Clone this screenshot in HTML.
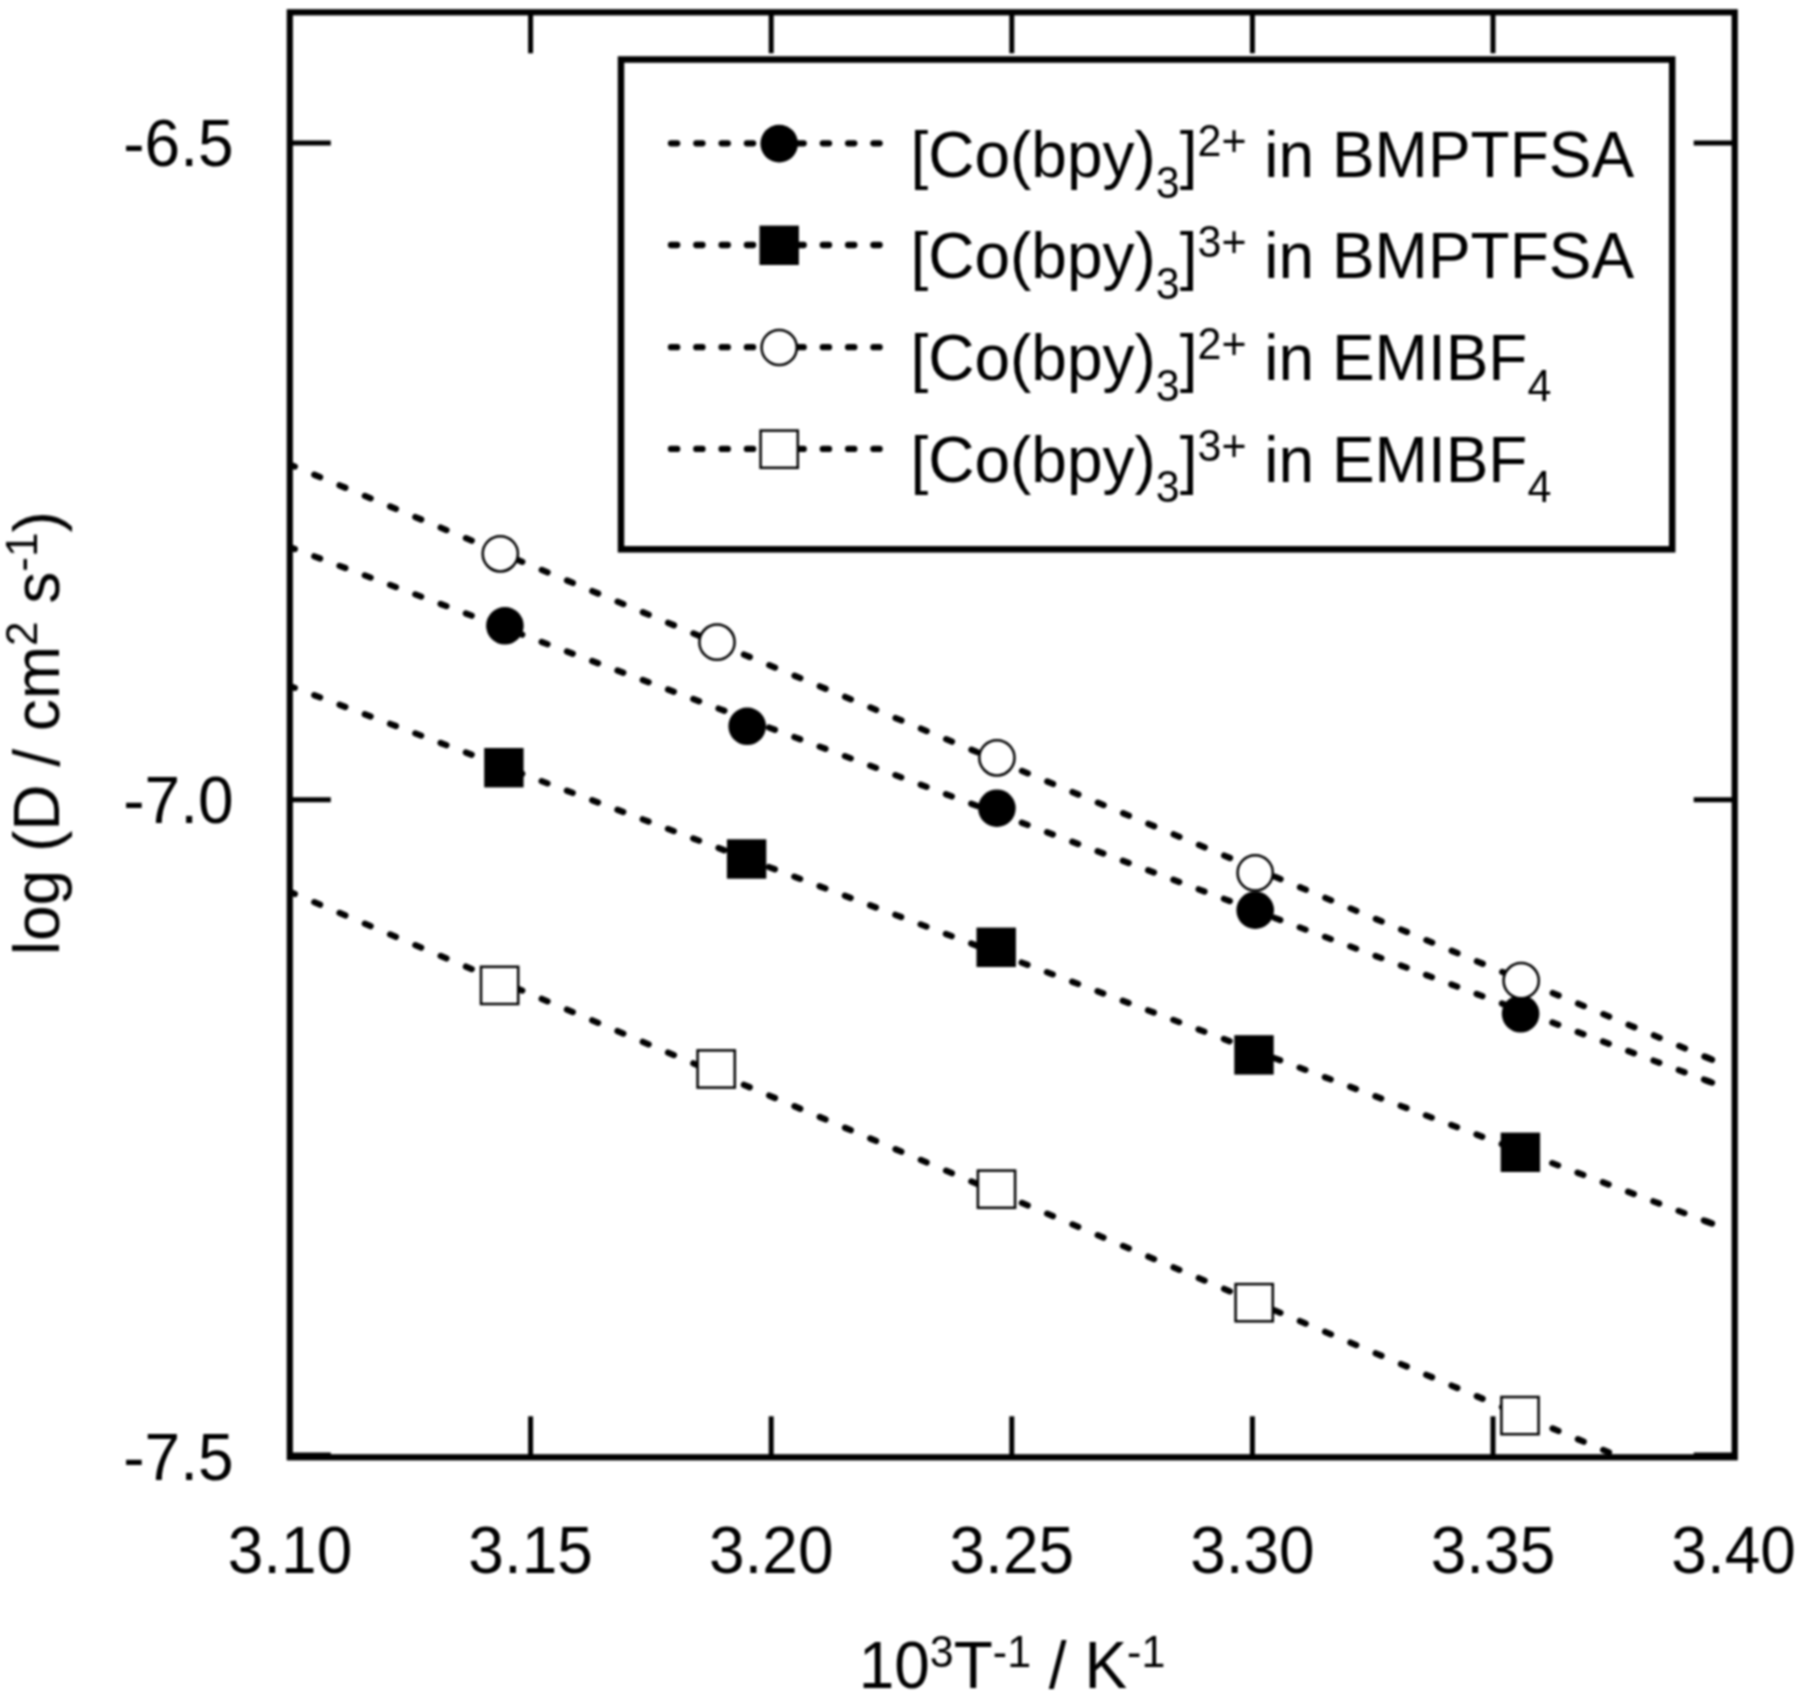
<!DOCTYPE html>
<html lang="en"><head><meta charset="utf-8"><title>log D vs 1000/T</title>
<style>html,body{margin:0;padding:0;background:#fff;}body{width:1800px;height:1697px;overflow:hidden;}svg{display:block;}text{font-family:"Liberation Sans",sans-serif;fill:#000;}</style>
</head><body>
<svg width="1800" height="1697" viewBox="0 0 1800 1697">
<rect x="0" y="0" width="1800" height="1697" fill="#fff"/>
<defs><filter id="soft" x="0" y="0" width="1800" height="1697" filterUnits="userSpaceOnUse" color-interpolation-filters="sRGB"><feGaussianBlur stdDeviation="0.8"/></filter><clipPath id="plotclip"><rect x="289.80" y="12.30" width="1444.90" height="1445.00"/></clipPath></defs>
<g filter="url(#soft)">
<g>
<line x1="289.00" y1="546.85" x2="1710.50" y2="1082.04" stroke="#000" stroke-width="6.3" stroke-linecap="round" stroke-dasharray="6.20 20.80" clip-path="url(#plotclip)"/><line x1="1706.00" y1="1080.35" x2="1712.00" y2="1082.61" stroke="#000" stroke-width="6.3" stroke-linecap="round" clip-path="url(#plotclip)"/>
<circle cx="504.9" cy="625.8" r="18.8" fill="#000"/>
<circle cx="747.2" cy="726.3" r="18.8" fill="#000"/>
<circle cx="996.9" cy="808.2" r="18.8" fill="#000"/>
<circle cx="1255.2" cy="910.2" r="18.8" fill="#000"/>
<circle cx="1520.6" cy="1013.8" r="18.8" fill="#000"/>
</g>
<g>
<line x1="289.00" y1="685.64" x2="1710.50" y2="1222.97" stroke="#000" stroke-width="6.3" stroke-linecap="round" stroke-dasharray="6.20 20.81" clip-path="url(#plotclip)"/><line x1="1706.00" y1="1221.27" x2="1712.00" y2="1223.54" stroke="#000" stroke-width="6.3" stroke-linecap="round" clip-path="url(#plotclip)"/>
<rect x="484.2" y="748.0" width="39.4" height="39.4" fill="#000"/>
<rect x="726.9" y="839.3" width="39.4" height="39.4" fill="#000"/>
<rect x="976.5" y="927.6" width="39.4" height="39.4" fill="#000"/>
<rect x="1234.3" y="1035.2" width="39.4" height="39.4" fill="#000"/>
<rect x="1500.7" y="1132.6" width="39.4" height="39.4" fill="#000"/>
</g>
<g>
<line x1="289.00" y1="464.16" x2="1710.50" y2="1059.06" stroke="#000" stroke-width="6.3" stroke-linecap="round" stroke-dasharray="6.29 21.11" clip-path="url(#plotclip)"/><line x1="1706.00" y1="1057.18" x2="1712.00" y2="1059.69" stroke="#000" stroke-width="6.3" stroke-linecap="round" clip-path="url(#plotclip)"/>
<circle cx="500.3" cy="553.8" r="17.6" fill="#fff" stroke="#000" stroke-width="2.5"/>
<circle cx="717.0" cy="642.2" r="17.6" fill="#fff" stroke="#000" stroke-width="2.5"/>
<circle cx="996.9" cy="757.8" r="17.6" fill="#fff" stroke="#000" stroke-width="2.5"/>
<circle cx="1255.2" cy="872.9" r="17.6" fill="#fff" stroke="#000" stroke-width="2.5"/>
<circle cx="1521.2" cy="980.7" r="17.6" fill="#fff" stroke="#000" stroke-width="2.5"/>
</g>
<g>
<line x1="289.00" y1="891.45" x2="1710.50" y2="1495.59" stroke="#000" stroke-width="6.3" stroke-linecap="round" stroke-dasharray="6.30 21.16" clip-path="url(#plotclip)"/><line x1="1706.00" y1="1493.67" x2="1712.00" y2="1496.22" stroke="#000" stroke-width="6.3" stroke-linecap="round" clip-path="url(#plotclip)"/>
<rect x="481.0" y="966.8" width="37.2" height="37.2" fill="#fff" stroke="#000" stroke-width="2.5"/>
<rect x="697.6" y="1050.4" width="37.2" height="37.2" fill="#fff" stroke="#000" stroke-width="2.5"/>
<rect x="977.9" y="1170.6" width="37.2" height="37.2" fill="#fff" stroke="#000" stroke-width="2.5"/>
<rect x="1235.6" y="1284.1" width="37.2" height="37.2" fill="#fff" stroke="#000" stroke-width="2.5"/>
<rect x="1501.4" y="1397.0" width="37.2" height="37.2" fill="#fff" stroke="#000" stroke-width="2.5"/>
</g>
<rect x="289.80" y="12.30" width="1444.90" height="1445.00" fill="none" stroke="#000" stroke-width="6.20"/>
<g stroke="#000" stroke-width="5.00">
<line x1="530.60" y1="12.30" x2="530.60" y2="53.30"/>
<line x1="530.60" y1="1457.30" x2="530.60" y2="1416.30"/>
<line x1="771.20" y1="12.30" x2="771.20" y2="53.30"/>
<line x1="771.20" y1="1457.30" x2="771.20" y2="1416.30"/>
<line x1="1011.80" y1="12.30" x2="1011.80" y2="53.30"/>
<line x1="1011.80" y1="1457.30" x2="1011.80" y2="1416.30"/>
<line x1="1252.40" y1="12.30" x2="1252.40" y2="53.30"/>
<line x1="1252.40" y1="1457.30" x2="1252.40" y2="1416.30"/>
<line x1="1493.00" y1="12.30" x2="1493.00" y2="53.30"/>
<line x1="1493.00" y1="1457.30" x2="1493.00" y2="1416.30"/>
<line x1="289.80" y1="143.10" x2="330.80" y2="143.10"/>
<line x1="1734.70" y1="143.10" x2="1693.70" y2="143.10"/>
<line x1="289.80" y1="799.80" x2="330.80" y2="799.80"/>
<line x1="1734.70" y1="799.80" x2="1693.70" y2="799.80"/>
<line x1="289.80" y1="1455.00" x2="330.80" y2="1455.00"/>
<line x1="1734.70" y1="1455.00" x2="1693.70" y2="1455.00"/>
</g>
<g font-size="64">
<text transform="translate(233.5,166.1) scale(1,1.035)" text-anchor="end">-6.5</text>
<text transform="translate(233.5,822.8) scale(1,1.035)" text-anchor="end">-7.0</text>
<text transform="translate(233.5,1479.5) scale(1,1.035)" text-anchor="end">-7.5</text>
<text transform="translate(290.0,1573) scale(1,1.035)" text-anchor="middle">3.10</text>
<text transform="translate(530.6,1573) scale(1,1.035)" text-anchor="middle">3.15</text>
<text transform="translate(771.2,1573) scale(1,1.035)" text-anchor="middle">3.20</text>
<text transform="translate(1011.8,1573) scale(1,1.035)" text-anchor="middle">3.25</text>
<text transform="translate(1252.4,1573) scale(1,1.035)" text-anchor="middle">3.30</text>
<text transform="translate(1493.0,1573) scale(1,1.035)" text-anchor="middle">3.35</text>
<text transform="translate(1733.6,1573) scale(1,1.035)" text-anchor="middle">3.40</text>
</g>
<text transform="translate(1012,1688.5) scale(1,1.035)" font-size="64" text-anchor="middle">10<tspan font-size="43" dy="-20.5">3</tspan><tspan dy="20.5">T</tspan><tspan font-size="43" dy="-20.5">-1</tspan><tspan dy="20.5"> / K</tspan><tspan font-size="43" dy="-20.5">-1</tspan></text>
<text transform="translate(59.0,733.2) rotate(-90)" font-size="64" text-anchor="middle">log (D / cm<tspan font-size="44" dy="-22">2</tspan><tspan dy="22"> s</tspan><tspan font-size="44" dy="-22">-1</tspan><tspan dy="22">)</tspan></text>
<rect x="621.00" y="59.50" width="1051.20" height="489.80" fill="#fff" stroke="#000" stroke-width="6.5"/>
<line x1="671.0" y1="143.3" x2="879.9" y2="143.3" stroke="#000" stroke-width="6.3" stroke-linecap="round" stroke-dasharray="6.2 19.1"/>
<circle cx="779.2" cy="143.6" r="18.8" fill="#000"/>
<text transform="translate(910.5,176.6) scale(1,1.020)" font-size="64">[Co(bpy)<tspan font-size="43" dy="20.5">3</tspan><tspan dy="-20.5">]</tspan><tspan font-size="43" dy="-20.5">2+</tspan><tspan dy="20.5"> in BMPTFSA</tspan></text>
<line x1="671.0" y1="245.0" x2="879.9" y2="245.0" stroke="#000" stroke-width="6.3" stroke-linecap="round" stroke-dasharray="6.2 19.1"/>
<rect x="759.5" y="225.6" width="39.4" height="39.4" fill="#000"/>
<text transform="translate(910.5,278.3) scale(1,1.020)" font-size="64">[Co(bpy)<tspan font-size="43" dy="20.5">3</tspan><tspan dy="-20.5">]</tspan><tspan font-size="43" dy="-20.5">3+</tspan><tspan dy="20.5"> in BMPTFSA</tspan></text>
<line x1="671.0" y1="347.2" x2="879.9" y2="347.2" stroke="#000" stroke-width="6.3" stroke-linecap="round" stroke-dasharray="6.2 19.1"/>
<circle cx="779.2" cy="347.5" r="17.6" fill="#fff" stroke="#000" stroke-width="2.5"/>
<text transform="translate(910.5,379.8) scale(1,1.020)" font-size="64">[Co(bpy)<tspan font-size="43" dy="20.5">3</tspan><tspan dy="-20.5">]</tspan><tspan font-size="43" dy="-20.5">2+</tspan><tspan dy="20.5"> in EMIBF</tspan><tspan font-size="43" dy="20.5">4</tspan></text>
<line x1="671.0" y1="448.9" x2="879.9" y2="448.9" stroke="#000" stroke-width="6.3" stroke-linecap="round" stroke-dasharray="6.2 19.1"/>
<rect x="760.6" y="430.6" width="37.2" height="37.2" fill="#fff" stroke="#000" stroke-width="2.5"/>
<text transform="translate(910.5,481.5) scale(1,1.020)" font-size="64">[Co(bpy)<tspan font-size="43" dy="20.5">3</tspan><tspan dy="-20.5">]</tspan><tspan font-size="43" dy="-20.5">3+</tspan><tspan dy="20.5"> in EMIBF</tspan><tspan font-size="43" dy="20.5">4</tspan></text>
</g>
</svg>
</body></html>
